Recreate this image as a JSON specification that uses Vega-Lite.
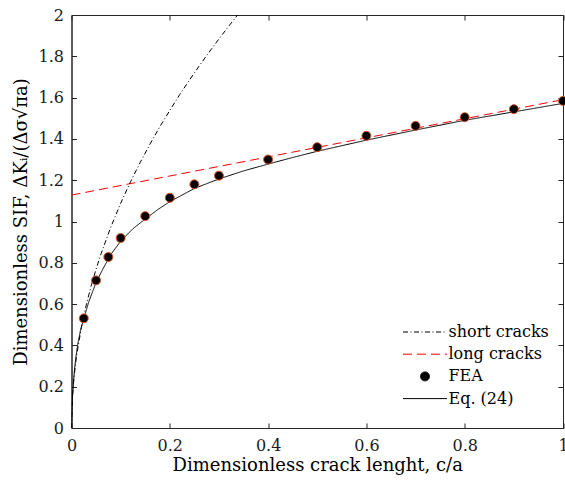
{
  "$schema": "https://vega.github.io/schema/vega-lite/v6.json",
  "width": 491.5,
  "height": 413,
  "autosize": {"type": "none"},
  "padding": {"left": 71.5, "top": 15, "right": 2, "bottom": 56},
  "background": "white",
  "config": {
    "view": {"stroke": "#262626", "strokeWidth": 1},
    "font": "DejaVu Serif",
    "axis": {
      "domainColor": "#262626",
      "tickColor": "#262626",
      "labelColor": "#1a1a1a",
      "titleColor": "#000000",
      "labelFont": "DejaVu Serif",
      "labelFontSize": 16,
      "titleFont": "DejaVu Serif",
      "titleFontSize": 18,
      "titleFontWeight": "normal",
      "grid": false,
      "tickSize": -5,
      "labelFlush": false,
      "labelOverlap": false
    },
    "legend": {
      "labelFont": "DejaVu Serif",
      "labelFontSize": 16,
      "labelColor": "#000000"
    }
  },
  "datasets": {
    "curves": [
      {"series": "Eq. (24)", "c": 0, "y": 0},
      {"series": "Eq. (24)", "c": 0.0005, "y": 0.06},
      {"series": "Eq. (24)", "c": 0.001, "y": 0.1},
      {"series": "Eq. (24)", "c": 0.002, "y": 0.15},
      {"series": "Eq. (24)", "c": 0.004, "y": 0.22},
      {"series": "Eq. (24)", "c": 0.006, "y": 0.28},
      {"series": "Eq. (24)", "c": 0.009, "y": 0.345},
      {"series": "Eq. (24)", "c": 0.013, "y": 0.41},
      {"series": "Eq. (24)", "c": 0.018, "y": 0.47},
      {"series": "Eq. (24)", "c": 0.025, "y": 0.53},
      {"series": "Eq. (24)", "c": 0.035, "y": 0.61},
      {"series": "Eq. (24)", "c": 0.05, "y": 0.705},
      {"series": "Eq. (24)", "c": 0.065, "y": 0.775},
      {"series": "Eq. (24)", "c": 0.08, "y": 0.84},
      {"series": "Eq. (24)", "c": 0.1, "y": 0.905},
      {"series": "Eq. (24)", "c": 0.125, "y": 0.965},
      {"series": "Eq. (24)", "c": 0.15, "y": 1.012},
      {"series": "Eq. (24)", "c": 0.175, "y": 1.057},
      {"series": "Eq. (24)", "c": 0.2, "y": 1.096},
      {"series": "Eq. (24)", "c": 0.25, "y": 1.16},
      {"series": "Eq. (24)", "c": 0.3, "y": 1.206},
      {"series": "Eq. (24)", "c": 0.35, "y": 1.245},
      {"series": "Eq. (24)", "c": 0.4, "y": 1.278},
      {"series": "Eq. (24)", "c": 0.45, "y": 1.31},
      {"series": "Eq. (24)", "c": 0.5, "y": 1.34},
      {"series": "Eq. (24)", "c": 0.6, "y": 1.394},
      {"series": "Eq. (24)", "c": 0.7, "y": 1.443},
      {"series": "Eq. (24)", "c": 0.8, "y": 1.49},
      {"series": "Eq. (24)", "c": 0.9, "y": 1.531},
      {"series": "Eq. (24)", "c": 1.0, "y": 1.572},
      {"series": "long cracks", "c": 0, "y": 1.128},
      {"series": "long cracks", "c": 1, "y": 1.59},
      {"series": "short cracks", "c": 0, "y": 0},
      {"series": "short cracks", "c": 0.002, "y": 0.154},
      {"series": "short cracks", "c": 0.005, "y": 0.243},
      {"series": "short cracks", "c": 0.01, "y": 0.344},
      {"series": "short cracks", "c": 0.02, "y": 0.487},
      {"series": "short cracks", "c": 0.03, "y": 0.596},
      {"series": "short cracks", "c": 0.04, "y": 0.688},
      {"series": "short cracks", "c": 0.05, "y": 0.769},
      {"series": "short cracks", "c": 0.06, "y": 0.843},
      {"series": "short cracks", "c": 0.08, "y": 0.973},
      {"series": "short cracks", "c": 0.1, "y": 1.088},
      {"series": "short cracks", "c": 0.12, "y": 1.192},
      {"series": "short cracks", "c": 0.14, "y": 1.287},
      {"series": "short cracks", "c": 0.16, "y": 1.376},
      {"series": "short cracks", "c": 0.18, "y": 1.46},
      {"series": "short cracks", "c": 0.2, "y": 1.538},
      {"series": "short cracks", "c": 0.22, "y": 1.614},
      {"series": "short cracks", "c": 0.24, "y": 1.685},
      {"series": "short cracks", "c": 0.26, "y": 1.754},
      {"series": "short cracks", "c": 0.28, "y": 1.82},
      {"series": "short cracks", "c": 0.3, "y": 1.884},
      {"series": "short cracks", "c": 0.32, "y": 1.946},
      {"series": "short cracks", "c": 0.338, "y": 2.0}
    ],
    "fea": [
      {"series": "FEA", "c": 0.025, "y": 0.531},
      {"series": "FEA", "c": 0.05, "y": 0.715},
      {"series": "FEA", "c": 0.075, "y": 0.828},
      {"series": "FEA", "c": 0.1, "y": 0.92},
      {"series": "FEA", "c": 0.15, "y": 1.026},
      {"series": "FEA", "c": 0.2, "y": 1.115},
      {"series": "FEA", "c": 0.25, "y": 1.18},
      {"series": "FEA", "c": 0.3, "y": 1.222},
      {"series": "FEA", "c": 0.4, "y": 1.3},
      {"series": "FEA", "c": 0.5, "y": 1.36},
      {"series": "FEA", "c": 0.6, "y": 1.415},
      {"series": "FEA", "c": 0.7, "y": 1.463},
      {"series": "FEA", "c": 0.8, "y": 1.505},
      {"series": "FEA", "c": 0.9, "y": 1.544},
      {"series": "FEA", "c": 1.0, "y": 1.584}
    ]
  },
  "layer": [
    {
      "data": {"name": "curves"},
      "mark": {"type": "line", "strokeWidth": 1, "clip": true},
      "encoding": {
        "x": {
          "field": "c", "type": "quantitative",
          "scale": {"domain": [0, 1], "nice": false, "zero": false},
          "axis": {
            "orient": "bottom",
            "values": [0, 0.2, 0.4, 0.6, 0.8, 1],
            "format": ".1~f",
            "title": "Dimensionless crack lenght, c/a",
            "labelPadding": 14,
            "titlePadding": 3
          }
        },
        "y": {
          "field": "y", "type": "quantitative",
          "scale": {"domain": [0, 2], "nice": false, "zero": false},
          "axis": {
            "orient": "left",
            "values": [0, 0.2, 0.4, 0.6, 0.8, 1, 1.2, 1.4, 1.6, 1.8, 2],
            "format": ".1~f",
            "title": "Dimensionless SIF, ΔKᵢ/(Δσ√πa)",
            "labelPadding": 13,
            "titlePadding": 8
          }
        },
        "color": {
          "field": "series", "type": "nominal",
          "scale": {
            "domain": ["short cracks", "long cracks", "FEA", "Eq. (24)"],
            "range": ["#000000", "#ff0000", "#000000", "#000000"]
          },
          "legend": {
            "title": null,
            "orient": "none",
            "legendX": 331,
            "legendY": 307,
            "padding": 0,
            "columns": 1,
            "clipHeight": 20,
            "rowPadding": 2.2,
            "labelOffset": 1,
            "symbolSize": 1936,
            "encode": {
              "symbols": {
                "update": {
                  "shape": {"signal": "datum.value === 'FEA' ? 'circle' : 'stroke'"},
                  "size": {"signal": "datum.value === 'FEA' ? 80 : 1936"},
                  "fill": {"signal": "datum.value === 'FEA' ? '#000000' : 'transparent'"},
                  "stroke": {"signal": "datum.value === 'FEA' ? '#D95319' : (datum.value === 'long cracks' ? '#ff0000' : '#000000')"},
                  "strokeDash": {"signal": "datum.value === 'short cracks' ? [5, 2.5, 1, 2.5] : (datum.value === 'long cracks' ? [9, 5] : [1, 0])"},
                  "strokeWidth": {"value": 1},
                  "opacity": {"value": 1}
                }
              }
            }
          }
        },
        "strokeDash": {
          "field": "series", "type": "nominal",
          "scale": {
            "domain": ["short cracks", "long cracks", "FEA", "Eq. (24)"],
            "range": [[5, 2.5, 1, 2.5], [9, 5], [1, 0], [1, 0]]
          },
          "legend": null
        }
      }
    },
    {
      "data": {"name": "fea"},
      "mark": {"type": "point", "filled": true, "size": 80, "stroke": "#D95319", "strokeWidth": 1, "opacity": 1},
      "encoding": {
        "x": {
          "field": "c", "type": "quantitative",
          "axis": {
            "orient": "top",
            "values": [0, 0.2, 0.4, 0.6, 0.8, 1],
            "labels": false,
            "title": null,
            "domain": false
          }
        },
        "y": {
          "field": "y", "type": "quantitative",
          "axis": {
            "orient": "right",
            "values": [0, 0.2, 0.4, 0.6, 0.8, 1, 1.2, 1.4, 1.6, 1.8, 2],
            "labels": false,
            "title": null,
            "domain": false
          }
        },
        "color": {
          "field": "series", "type": "nominal",
          "scale": {
            "domain": ["short cracks", "long cracks", "FEA", "Eq. (24)"],
            "range": ["#000000", "#ff0000", "#000000", "#000000"]
          }
        }
      }
    }
  ]
}
